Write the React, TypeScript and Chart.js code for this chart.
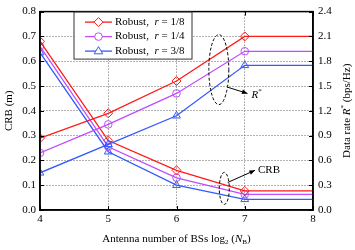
import React, { useEffect, useRef } from "react";
import { Chart, registerables } from "chart.js";

Chart.register(...registerables);

// ---------- data ----------
const antennaLog2 = [4, 5, 6, 7, 8];
// CRB (m), left axis
const crbR18 = [0.68, 0.28, 0.16, 0.077, 0.077];
const crbR14 = [0.66, 0.255, 0.13, 0.063, 0.063];
const crbR38 = [0.635, 0.235, 0.1, 0.043, 0.043];
// Data rate R* (bps/Hz), right axis
const rateR18 = [0.87, 1.17, 1.56, 2.1, 2.1];
const rateR14 = [0.69, 1.035, 1.41, 1.92, 1.92];
const rateR38 = [0.45, 0.795, 1.14, 1.75, 1.75];

const seriesLabels = ["1/8", "1/4", "3/8"];
const leftTicks = { min: 0, max: 0.8, step: 0.1 };
const rightTicks = { min: 0, max: 2.4, step: 0.3 };
const xTicks = { min: 4, max: 8, step: 1 };

const RED = "rgb(255,25,25)";
const PURPLE = "rgb(192,75,255)";
const BLUE = "rgb(50,90,255)";
const FONT = '"Liberation Serif", "Times New Roman", serif';

type Run = { t: string; i?: boolean; sub?: boolean; sup?: boolean };

function runsWidth(ctx: CanvasRenderingContext2D, runs: Run[], size: number) {
  let w = 0;
  for (const r of runs) {
    const s = r.sub || r.sup ? size * 0.65 : size;
    ctx.font = `${r.i ? "italic " : ""}${s}px ${FONT}`;
    w += ctx.measureText(r.t).width;
  }
  return w;
}

function drawRuns(ctx: CanvasRenderingContext2D, runs: Run[], x: number, y: number, size: number, align: "left" | "center") {
  const total = runsWidth(ctx, runs, size);
  let cx = align === "center" ? x - total / 2 : x;
  ctx.textBaseline = "middle";
  ctx.textAlign = "left";
  ctx.fillStyle = "#000";
  for (const r of runs) {
    const s = r.sub || r.sup ? size * 0.65 : size;
    ctx.font = `${r.i ? "italic " : ""}${s}px ${FONT}`;
    const dy = r.sub ? size * 0.3 : r.sup ? -size * 0.35 : 0;
    ctx.fillText(r.t, cx, y + dy);
    cx += ctx.measureText(r.t).width;
  }
}

function drawMarker(ctx: CanvasRenderingContext2D, style: string, x: number, y: number, color: string) {
  ctx.save();
  ctx.strokeStyle = color;
  ctx.lineWidth = 1;
  ctx.beginPath();
  if (style === "rectRot") {
    const r = 4.5;
    ctx.moveTo(x, y - r);
    ctx.lineTo(x + r, y);
    ctx.lineTo(x, y + r);
    ctx.lineTo(x - r, y);
    ctx.closePath();
  } else if (style === "circle") {
    ctx.arc(x, y, 3.8, 0, Math.PI * 2);
  } else {
    const r = 4.5;
    ctx.moveTo(x, y - r);
    ctx.lineTo(x + r * 0.95, y + r * 0.6);
    ctx.lineTo(x - r * 0.95, y + r * 0.6);
    ctx.closePath();
  }
  ctx.fillStyle = "#fff";
  ctx.fill();
  ctx.stroke();
  ctx.restore();
}

const decorPlugin = {
  id: "decor",
  beforeDraw(chart: any) {
    const ctx = chart.ctx;
    ctx.save();
    ctx.fillStyle = "#fff";
    ctx.fillRect(0, 0, chart.width, chart.height);
    ctx.restore();
  },
  afterDraw(chart: any) {
    const ctx: CanvasRenderingContext2D = chart.ctx;
    const a = chart.chartArea;
    const xs = chart.scales.x;
    const ys = chart.scales.y;
    const ys1 = chart.scales.y1;
    ctx.save();
    // frame
    ctx.strokeStyle = "#000";
    ctx.lineWidth = 1.5;
    ctx.strokeRect(a.left, a.top, a.right - a.left, a.bottom - a.top);

    // inward tick marks
    ctx.lineWidth = 1;
    ctx.beginPath();
    xs.ticks.forEach((t: any) => {
      const px = Math.round(xs.getPixelForValue(t.value)) + 0.5;
      ctx.moveTo(px, a.bottom);
      ctx.lineTo(px, a.bottom - 4);
      ctx.moveTo(px, a.top);
      ctx.lineTo(px, a.top + 4);
    });
    ys.ticks.forEach((t: any) => {
      const py = Math.round(ys.getPixelForValue(t.value)) + 0.5;
      ctx.moveTo(a.left, py);
      ctx.lineTo(a.left + 4, py);
    });
    ys1.ticks.forEach((t: any) => {
      const py = Math.round(ys1.getPixelForValue(t.value)) + 0.5;
      ctx.moveTo(a.right, py);
      ctx.lineTo(a.right - 4, py);
    });
    ctx.stroke();

    // annotations (dashed ellipses + arrows)
    ctx.lineWidth = 1;
    ctx.setLineDash([3, 2]);
    ctx.beginPath();
    ctx.ellipse(xs.getPixelForValue(6.62), ys.getPixelForValue(0.566), 10, 35, 0, 0, Math.PI * 2);
    ctx.stroke();
    ctx.beginPath();
    ctx.ellipse(xs.getPixelForValue(6.7), ys.getPixelForValue(0.087), 5, 16, 0, 0, Math.PI * 2);
    ctx.stroke();
    ctx.setLineDash([]);

    const arrow = (x1: number, y1: number, x2: number, y2: number) => {
      const p1x = xs.getPixelForValue(x1), p1y = ys.getPixelForValue(y1);
      const p2x = xs.getPixelForValue(x2), p2y = ys.getPixelForValue(y2);
      ctx.beginPath();
      ctx.moveTo(p1x, p1y);
      ctx.lineTo(p2x, p2y);
      ctx.stroke();
      const ang = Math.atan2(p2y - p1y, p2x - p1x);
      const L = 6;
      ctx.beginPath();
      ctx.moveTo(p2x, p2y);
      ctx.lineTo(p2x - L * Math.cos(ang - 0.4), p2y - L * Math.sin(ang - 0.4));
      ctx.lineTo(p2x - L * Math.cos(ang + 0.4), p2y - L * Math.sin(ang + 0.4));
      ctx.closePath();
      ctx.fillStyle = "#000";
      ctx.fill();
      return [p2x, p2y];
    };
    const [rx, ry] = arrow(6.75, 0.495, 7.04, 0.47);
    drawRuns(ctx, [{ t: "R", i: true }, { t: "*", sup: true }], rx + 4, ry + 2, 11, "left");
    const [cx, cy] = arrow(6.75, 0.111, 7.15, 0.16);
    drawRuns(ctx, [{ t: "CRB" }], cx + 3, cy, 11, "left");

    // legend
    const lx = a.left + 34, ly = a.top + 0.5, lw = 118, lh = 47;
    ctx.fillStyle = "#fff";
    ctx.fillRect(lx, ly, lw, lh);
    ctx.strokeStyle = "#333";
    ctx.lineWidth = 1;
    ctx.strokeRect(lx, ly, lw, lh);
    const colors = [RED, PURPLE, BLUE];
    const styles = ["rectRot", "circle", "triangle"];
    seriesLabels.forEach((lab, i) => {
      const yy = ly + 10 + i * 14.5;
      ctx.strokeStyle = colors[i];
      ctx.lineWidth = 1.3;
      ctx.beginPath();
      ctx.moveTo(lx + 11, yy);
      ctx.lineTo(lx + 38, yy);
      ctx.stroke();
      drawMarker(ctx, styles[i], lx + 24.5, yy, colors[i]);
      drawRuns(ctx, [{ t: "Robust,  " }, { t: "r", i: true }, { t: " = " + lab }], lx + 41, yy, 11, "left");
    });

    // axis titles
    drawRuns(
      ctx,
      [{ t: "Antenna number of BSs log" }, { t: "2", sub: true }, { t: " (" }, { t: "N", i: true }, { t: "B", sub: true }, { t: ")" }],
      (a.left + a.right) / 2,
      a.bottom + 29,
      11,
      "center"
    );
    ctx.save();
    ctx.translate(9, (a.top + a.bottom) / 2);
    ctx.rotate(-Math.PI / 2);
    drawRuns(ctx, [{ t: "CRB (m)" }], 0, 0, 11, "center");
    ctx.restore();
    ctx.save();
    ctx.translate(chart.width - 8, (a.top + a.bottom) / 2);
    ctx.rotate(-Math.PI / 2);
    drawRuns(ctx, [{ t: "Data rate " }, { t: "R", i: true }, { t: "*", sup: true }, { t: " (bps/Hz)" }], 0, 0, 11, "center");
    ctx.restore();
    ctx.restore();
  },
};

function makeDataset(values: number[], color: string, style: string, axis: string) {
  return {
    data: antennaLog2.map((x, i) => ({ x, y: values[i] })),
    yAxisID: axis,
    borderColor: color,
    borderWidth: 1.3,
    pointStyle: style,
    pointRadius: antennaLog2.map((x) => (x < 8 ? (style === "circle" ? 3.8 : 4.5) : 0)),
    pointBorderWidth: 1,
    pointBorderColor: color,
    pointBackgroundColor: "rgba(255,255,255,0)",
    fill: false,
    tension: 0,
  };
}

export default function App() {
  const ref = useRef<HTMLCanvasElement | null>(null);
  useEffect(() => {
    if (!ref.current) return;
    const tickFont = { family: FONT, size: 11 };
    const chart = new Chart(ref.current, {
      type: "line",
      data: {
        datasets: [
          makeDataset(rateR18, RED, "rectRot", "y1"),
          makeDataset(rateR14, PURPLE, "circle", "y1"),
          makeDataset(rateR38, BLUE, "triangle", "y1"),
          makeDataset(crbR18, RED, "rectRot", "y"),
          makeDataset(crbR14, PURPLE, "circle", "y"),
          makeDataset(crbR38, BLUE, "triangle", "y"),
        ] as any,
      },
      options: {
        animation: false,
        responsive: false,
        layout: { padding: { top: 8, left: 0, right: 0, bottom: 0 } },
        plugins: { legend: { display: false }, tooltip: { enabled: false } },
        scales: {
          x: {
            type: "linear",
            min: xTicks.min,
            max: xTicks.max,
            ticks: { stepSize: xTicks.step, font: tickFont, color: "#000", padding: 3 },
            grid: { color: "#666", lineWidth: 1, drawTicks: false },
            border: { display: true, color: "#000", width: 1.5, dash: [1, 2] },
            afterFit: (s: any) => { s.height = 40; },
          },
          y: {
            type: "linear",
            position: "left",
            min: leftTicks.min,
            max: leftTicks.max,
            ticks: { stepSize: leftTicks.step, font: tickFont, color: "#000", padding: 4, callback: (v: any) => Number(v).toFixed(1) },
            grid: { color: "#666", lineWidth: 1, drawTicks: false },
            border: { display: true, color: "#000", width: 1.5, dash: [1, 2] },
            afterFit: (s: any) => { s.width = 40; },
          },
          y1: {
            type: "linear",
            position: "right",
            min: rightTicks.min,
            max: rightTicks.max,
            ticks: { stepSize: rightTicks.step, font: tickFont, color: "#000", padding: 5, callback: (v: any) => Number(v).toFixed(1) },
            grid: { display: false, drawTicks: false },
            border: { display: true, color: "#000", width: 1.5 },
            afterFit: (s: any) => { s.width = 42; },
          },
        },
      } as any,
      plugins: [decorPlugin],
    });
    return () => chart.destroy();
  }, []);
  return (
    <div style={{ position: "fixed", left: 0, top: 0, width: 355, height: 250, background: "#fff" }}>
      <canvas ref={ref} width={355} height={250} style={{ width: 355, height: 250, display: "block" }} />
    </div>
  );
}
